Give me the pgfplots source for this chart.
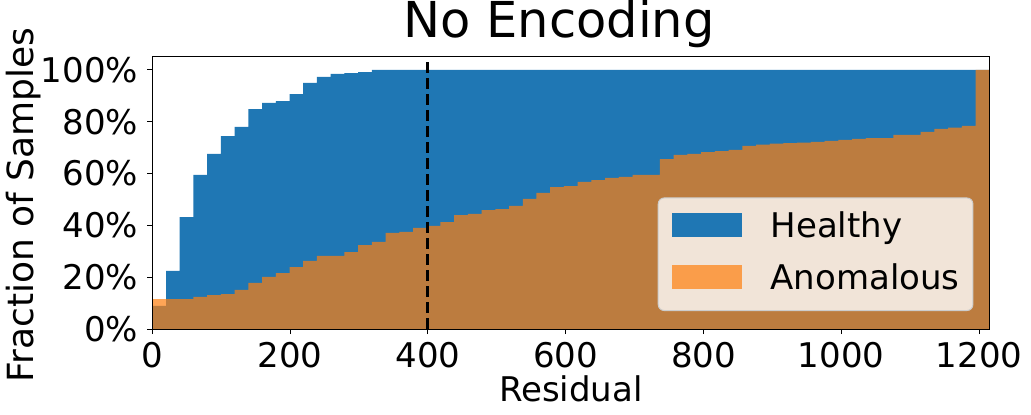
\documentclass[border=0pt]{standalone}
\usepackage{fontspec}
\setmainfont{DejaVu Sans}
\usepackage{pgfplots}
\pgfplotsset{compat=1.18}
\definecolor{mplblue}{RGB}{31,119,180}
\definecolor{mplorange}{RGB}{255,127,14}
\definecolor{legframe}{RGB}{204,204,204}

\begin{document}
\begin{tikzpicture}
\begin{axis}[
    scale only axis,
    width=837pt, height=272pt,
    xmin=0, xmax=1214.92, ymin=0, ymax=1.05,
    axis on top,
    axis line style={line width=1pt},
    tick align=outside,
    xtick pos=bottom, ytick pos=left,
    major tick length=5pt,
    tick style={line width=1pt, black},
    xtick={0,200,400,600,800,1000,1200},
    xticklabels={0,200,400,600,800,1000,1200},
    ytick={0,0.2,0.4,0.6,0.8,1},
    yticklabels={0\%,20\%,40\%,60\%,80\%,100\%},
    tick label style={font=\fontsize{34}{40}\selectfont, inner sep=0pt},
    xticklabel style={anchor=north, yshift=-8pt},
    yticklabel style={anchor=east, xshift=-9pt},
    title={No Encoding},
    title style={font=\fontsize{49.5}{58}\selectfont, at={(axis description cs:0.486,1.0504)}, anchor=base, inner sep=0pt},
    xlabel={Residual},
    xlabel style={font=\fontsize{34}{40}\selectfont, at={(axis description cs:0.5,-0.2673)}, anchor=base, inner sep=0pt},
    ylabel={Fraction of Samples},
    ylabel style={font=\fontsize{36}{42}\selectfont, at={(axis description cs:-0.1422,0.456)}, anchor=base, inner sep=0pt},
    legend style={at={(axis description cs:0.981,0.066)}, anchor=south east,
        draw=legframe, line width=1pt, rounded corners=6pt,
        fill=white, fill opacity=0.8, text opacity=1,
        inner xsep=13.3pt, inner ysep=13.3pt,
        column sep=29pt, row sep=18pt,
        font=\fontsize{34}{40}\selectfont,
        cells={anchor=base west},
        nodes={inner sep=0pt, text height=26pt, text depth=8pt}},
]
% Healthy: cumulative fraction per bin (61 bins of width 19.92)
\addplot[draw=none, fill=mplblue, fill opacity=1, const plot,
    legend image code/.code={\fill[mplblue, fill opacity=1, sharp corners] (0pt,0pt) rectangle (70pt,24.3pt);}]
coordinates {
(0,0.089) (19.92,0.224) (39.83,0.432) (59.75,0.595) (79.67,0.676) (99.58,0.745)
(119.50,0.780) (139.42,0.849) (159.33,0.873) (179.25,0.880) (199.17,0.907) (219.08,0.950)
(239.00,0.973) (258.92,0.985) (278.83,0.988) (298.75,0.992) (318.67,1.0) (338.58,1.0)
(358.50,1.0) (378.42,1.0) (398.33,1.0) (418.25,1.0) (438.17,1.0) (458.08,1.0)
(478.00,1.0) (497.92,1.0) (517.83,1.0) (537.75,1.0) (557.67,1.0) (577.58,1.0)
(597.50,1.0) (617.42,1.0) (637.33,1.0) (657.25,1.0) (677.17,1.0) (697.08,1.0)
(717.00,1.0) (736.92,1.0) (756.83,1.0) (776.75,1.0) (796.67,1.0) (816.58,1.0)
(836.50,1.0) (856.42,1.0) (876.33,1.0) (896.25,1.0) (916.17,1.0) (936.08,1.0)
(956.00,1.0) (975.92,1.0) (995.83,1.0) (1015.75,1.0) (1035.67,1.0) (1055.58,1.0)
(1075.50,1.0) (1095.42,1.0) (1115.33,1.0) (1135.25,1.0) (1155.17,1.0) (1175.08,1.0)
(1195.00,1.0) (1214.92,1.0)
} \closedcycle;
\addlegendentry{Healthy}
% Anomalous: cumulative fraction per bin (61 bins)
\addplot[draw=none, fill=mplorange, fill opacity=0.7, const plot,
    legend image code/.code={\fill[mplorange, fill opacity=0.7, sharp corners] (0pt,0pt) rectangle (70pt,24.3pt);}]
coordinates {
(0,0.115) (19.92,0.115) (39.83,0.115) (59.75,0.124) (79.67,0.131) (99.58,0.135)
(119.50,0.151) (139.42,0.178) (159.33,0.201) (179.25,0.216) (199.17,0.239) (219.08,0.263)
(239.00,0.282) (258.92,0.282) (278.83,0.297) (298.75,0.324) (318.67,0.336) (338.58,0.371)
(358.50,0.375) (378.42,0.390) (398.33,0.398) (418.25,0.413) (438.17,0.440) (458.08,0.444)
(478.00,0.459) (497.92,0.463) (517.83,0.475) (537.75,0.502) (557.67,0.525) (577.58,0.548)
(597.50,0.552) (617.42,0.568) (637.33,0.575) (657.25,0.583) (677.17,0.587) (697.08,0.595)
(717.00,0.595) (736.92,0.656) (756.83,0.672) (776.75,0.676) (796.67,0.683) (816.58,0.687)
(836.50,0.691) (856.42,0.707) (876.33,0.712) (896.25,0.716) (916.17,0.718) (936.08,0.719)
(956.00,0.722) (975.92,0.726) (995.83,0.730) (1015.75,0.734) (1035.67,0.737) (1055.58,0.737)
(1075.50,0.749) (1095.42,0.749) (1115.33,0.761) (1135.25,0.773) (1155.17,0.777) (1175.08,0.784)
(1195.00,1.0) (1214.92,1.0)
} \closedcycle;
\addlegendentry{Anomalous\hspace{5pt}}
% threshold
\addplot[black, line width=3.2pt, dash pattern=on 10.7pt off 5.3pt, forget plot]
coordinates {(400,0) (400,1.05)};
\coordinate (ll) at (rel axis cs:0,0);
\end{axis}
\pgfresetboundingbox
\path (ll) ++(-152.3pt,-86pt) rectangle ++(1031pt,415pt);
\end{tikzpicture}
\end{document}
